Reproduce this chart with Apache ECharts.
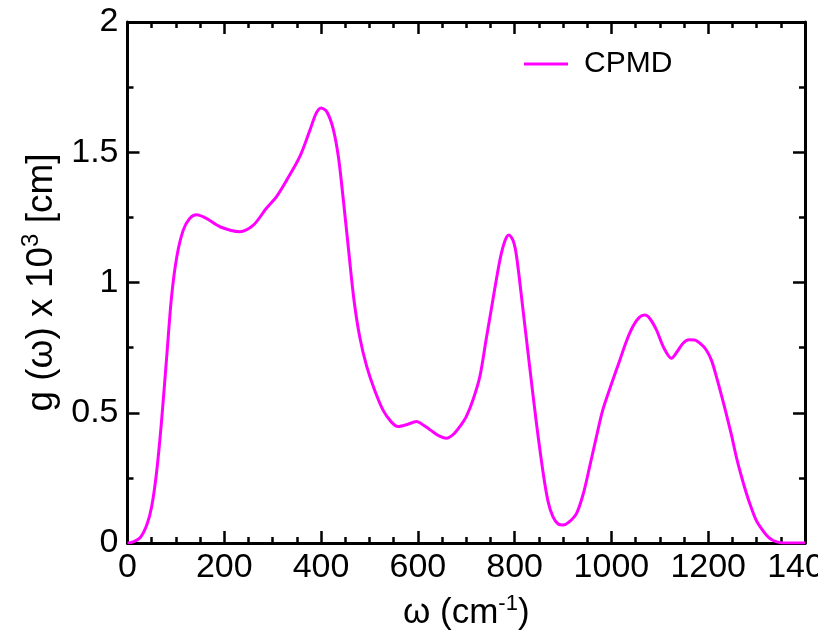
<!DOCTYPE html>
<html>
<head>
<meta charset="utf-8">
<script src="https://cdn.jsdelivr.net/npm/echarts@6/dist/echarts.min.js"></script>
<style>
  html, body { margin: 0; padding: 0; background: #fff; }
  #chart { width: 818px; height: 631px; }
</style>
</head>
<body>
<div id="chart"></div>
<script>
// frequency (cm^-1) and g(w) x 10^3
const omega = [0, 10, 26, 40, 50, 60, 70, 81, 91, 102, 115, 128, 143, 163, 191, 232, 260, 287, 308, 329,
  356, 377, 390, 400, 412, 425, 436, 446, 456, 468, 480, 494, 510, 528, 545, 559, 578, 597, 615, 631,
  645, 659, 675, 688, 700, 714, 728, 741, 755, 770, 780, 788, 797, 804, 817, 831, 845, 859, 869, 879,
  890, 900, 912, 928, 942, 955, 968, 982, 1000, 1017, 1030, 1044, 1057, 1069, 1080, 1093, 1108, 1124, 1136, 1148,
  1160, 1172, 1184, 1196, 1207, 1217, 1227, 1237, 1248, 1258, 1268, 1279, 1289, 1299, 1310, 1320, 1330, 1340, 1350, 1360, 1400];
const gCPMD = [0, 0.003, 0.02, 0.07, 0.14, 0.27, 0.46, 0.715, 0.945, 1.10, 1.20, 1.245, 1.26, 1.246, 1.214, 1.195, 1.22, 1.285, 1.33, 1.393,
  1.483, 1.585, 1.65, 1.67, 1.655, 1.59, 1.48, 1.317, 1.14, 0.933, 0.79, 0.68, 0.59, 0.51, 0.465, 0.447, 0.455, 0.466, 0.448, 0.427,
  0.41, 0.402, 0.42, 0.45, 0.485, 0.55, 0.638, 0.78, 0.933, 1.09, 1.16, 1.182, 1.16, 1.10, 0.90, 0.677, 0.46, 0.268, 0.16, 0.101,
  0.073, 0.069, 0.08, 0.114, 0.19, 0.293, 0.40, 0.51, 0.61, 0.70, 0.77, 0.83, 0.865, 0.875, 0.86, 0.818, 0.75, 0.709, 0.735, 0.767,
  0.78, 0.779, 0.765, 0.741, 0.70, 0.638, 0.57, 0.498, 0.415, 0.331, 0.26, 0.19, 0.135, 0.088, 0.055, 0.031, 0.014, 0.005, 0.001, 0, 0];
const xTicks = [0, 200, 400, 600, 800, 1000, 1200, 1400];
const yTicks = [0, 0.5, 1, 1.5, 2];

const chart = echarts.init(document.getElementById('chart'));
const font = 'Liberation Sans, Arial, sans-serif';
const line = { show: true, onZero: false, lineStyle: { color: '#000', width: 3 } };
const tick = { show: true, inside: true, length: 12, lineStyle: { color: '#000', width: 2.5 } };
const minor = (n) => ({ show: true, splitNumber: n, length: 6, lineStyle: { color: '#000', width: 2.5 } });

const xBase = {
  type: 'value',
  min: xTicks[0],
  max: xTicks[xTicks.length - 1],
  interval: xTicks[1] - xTicks[0],
  axisLine: line,
  axisTick: tick,
  minorTick: minor(4),
  splitLine: { show: false }
};
const yBase = {
  type: 'value',
  min: yTicks[0],
  max: yTicks[yTicks.length - 1],
  interval: yTicks[1] - yTicks[0],
  axisLine: line,
  axisTick: tick,
  minorTick: minor(2),
  splitLine: { show: false }
};

const option = {
  animation: false,
  backgroundColor: '#fff',
  grid: { left: 127.5, right: 13, top: 22, bottom: 88, outerBoundsMode: 'none', containLabel: false },
  legend: {
    left: 519,
    top: 44,
    itemWidth: 44,
    itemHeight: 3,
    textStyle: { fontFamily: font, fontSize: 30, color: '#000', padding: [0, 0, 0, 11] },
    data: [{ name: 'CPMD', icon: 'rect' }]
  },
  xAxis: [
    Object.assign({}, xBase, {
      position: 'bottom',
      axisLabel: { fontFamily: font, fontSize: 34, color: '#000', margin: 8, formatter: (v) => String(v) },
      name: '{a|ω (cm}{s|-1}{a|)}',
      nameLocation: 'middle',
      nameGap: 50,
      nameTextStyle: {
        rich: {
          a: { fontFamily: font, fontSize: 35, color: '#000' },
          s: { fontFamily: font, fontSize: 22, color: '#000', padding: [0, 0, 18, 0] }
        }
      }
    }),
    Object.assign({}, xBase, { position: 'top', axisLabel: { show: false } })
  ],
  yAxis: [
    Object.assign({}, yBase, {
      position: 'left',
      axisLabel: { fontFamily: font, fontSize: 34, color: '#000', margin: 9, formatter: (v) => String(v) },
      name: '{a|g (ω) x 10}{s|3}{a| [cm]}',
      nameLocation: 'middle',
      nameRotate: 90,
      nameGap: 58,
      nameTextStyle: {
        rich: {
          a: { fontFamily: font, fontSize: 37, color: '#000' },
          s: { fontFamily: font, fontSize: 24, color: '#000', padding: [0, 0, 20, 0] }
        }
      }
    }),
    Object.assign({}, yBase, { position: 'right', axisLabel: { show: false } })
  ],
  series: [{
    name: 'CPMD',
    type: 'line',
    xAxisIndex: 0,
    yAxisIndex: 0,
    data: omega.map((w, i) => [w, gCPMD[i]]),
    symbol: 'none',
    smooth: 0.3,
    lineStyle: { color: '#ff00ff', width: 3 },
    itemStyle: { color: '#ff00ff' }
  }]
};
chart.setOption(option);
</script>
</body>
</html>
